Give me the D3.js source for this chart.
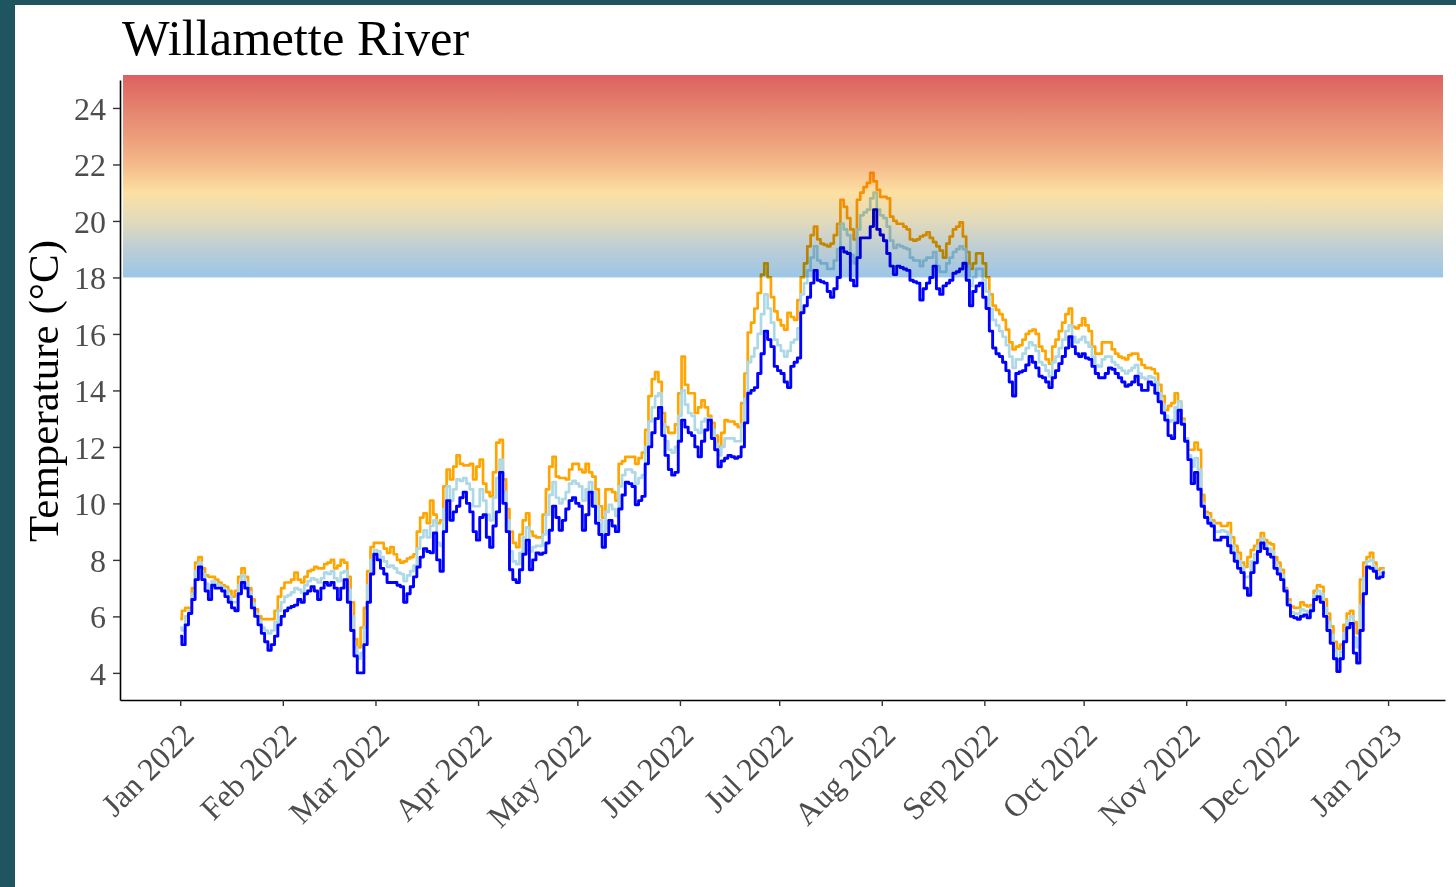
<!DOCTYPE html>
<html>
<head>
<meta charset="utf-8">
<script src="https://cdn.jsdelivr.net/npm/d3@7"></script>
<style>
  html, body { margin: 0; padding: 0; background: #1f5560; overflow: hidden; }
  svg { display: block; }
</style>
</head>
<body>
<svg id="chart"></svg>
<script>
// Daily water temperature, Willamette River, 2022 (°C)
const startDate = "2022-01-01";

const tempMax = [
  5.9,6.2,6.3,6.3,7.0,7.9,8.1,7.7,7.45,7.4,
  7.4,7.3,7.2,7.1,7.05,6.9,6.7,6.9,7.4,7.7,
  7.4,7.0,6.6,6.25,6.0,5.9,5.9,5.9,5.9,6.2,
  6.7,7.0,7.2,7.2,7.3,7.55,7.3,7.2,7.4,7.6,
  7.65,7.75,7.7,7.7,7.85,7.9,8.0,7.7,7.8,8.0,
  7.9,7.4,6.5,5.2,4.9,5.6,6.3,7.6,8.45,8.6,
  8.6,8.6,8.4,8.25,8.45,8.2,8.0,7.9,7.95,8.05,
  8.1,8.2,9.0,9.5,9.65,9.3,10.1,9.6,9.3,9.4,
  10.6,11.2,10.85,11.3,11.7,11.4,11.35,11.35,11.4,10.85,
  11.3,11.55,10.7,10.4,10.25,11.1,12.15,12.25,10.85,9.8,
  9.0,8.6,8.45,8.9,9.4,9.65,9.0,8.85,8.8,8.8,
  9.6,10.5,11.3,11.65,10.95,10.9,10.9,10.85,11.2,11.4,
  11.4,11.2,11.1,11.4,11.1,10.95,10.5,9.9,9.5,10.5,
  10.5,10.4,10.1,11.4,11.5,11.65,11.65,11.65,11.4,11.6,
  11.8,12.6,13.8,14.4,14.65,14.3,13.2,12.7,12.5,12.5,
  12.8,13.9,15.2,14.2,13.9,13.9,13.2,13.4,13.65,13.4,
  13.1,12.85,12.4,12.0,12.5,12.95,12.9,12.9,12.8,12.7,
  13.55,14.6,16.05,16.4,16.9,17.45,18.1,18.5,18.0,17.3,
  16.8,16.5,16.3,16.15,16.75,16.6,16.5,17.2,18.0,18.5,
  19.1,19.5,19.8,19.35,19.2,19.15,19.1,19.2,19.5,19.9,
  20.75,20.5,20.1,19.7,19.35,20.75,21.0,21.2,21.35,21.7,
  21.4,21.1,20.85,20.85,20.8,20.15,20.0,19.9,19.9,19.8,
  19.7,19.35,19.3,19.35,19.45,19.5,19.6,19.4,19.25,19.1,
  18.95,18.7,19.2,19.45,19.7,19.8,19.95,19.45,18.9,18.3,
  18.5,18.85,18.85,18.5,18.0,17.4,17.0,16.85,16.7,16.5,
  16.15,15.7,15.45,15.55,15.6,15.8,16.0,16.1,16.15,16.0,
  15.55,15.4,15.1,14.95,15.55,15.8,16.1,16.4,16.7,16.9,
  16.25,16.2,16.3,16.55,16.3,16.1,15.55,15.3,15.3,15.7,
  15.7,15.7,15.45,15.3,15.2,15.15,15.1,15.25,15.3,15.3,
  15.1,14.9,14.8,14.8,14.75,14.6,14.2,13.8,13.3,13.45,
  13.55,13.9,13.6,13.0,12.3,11.9,11.9,12.15,11.9,10.3,
  9.7,9.65,9.4,9.3,9.3,9.2,9.2,9.3,8.8,8.5,
  8.25,7.9,7.75,8.1,8.35,8.5,8.7,8.95,8.7,8.6,
  8.55,8.1,7.9,7.65,7.0,6.6,6.35,6.3,6.3,6.5,
  6.4,6.35,6.4,6.9,7.1,7.05,6.6,6.1,5.65,5.1,
  4.85,5.0,5.7,6.1,6.2,5.8,5.4,7.3,7.9,8.1,
  8.25,7.9,7.65,7.7,7.7
];

const tempMean = [
  5.6,5.5,6.0,6.2,6.8,7.6,7.9,7.5,7.15,7.0,
  7.25,7.15,7.1,7.0,6.9,6.7,6.5,6.5,7.1,7.45,
  7.2,6.85,6.45,6.1,5.85,5.6,5.5,5.4,5.5,5.8,
  6.2,6.5,6.7,6.75,6.85,7.0,6.95,6.85,7.1,7.25,
  7.35,7.3,7.2,7.35,7.55,7.5,7.6,7.35,7.25,7.55,
  7.6,6.95,6.0,4.9,4.5,4.7,5.6,7.1,8.0,8.35,
  8.3,8.1,7.95,7.75,7.8,7.7,7.55,7.5,7.25,7.45,
  7.6,7.8,8.4,8.8,9.05,8.8,9.2,9.4,8.6,8.5,
  9.8,10.6,10.1,10.5,10.85,10.8,10.9,10.7,10.5,9.9,
  9.9,10.5,10.1,9.6,9.4,10.2,10.9,11.55,10.4,9.4,
  8.3,7.95,7.85,8.25,8.8,9.15,8.3,8.45,8.5,8.5,
  8.9,9.6,10.3,10.75,10.2,10.0,10.15,10.4,10.7,10.8,
  10.7,10.6,10.1,10.5,10.75,10.4,9.9,9.4,9.0,9.7,
  9.95,9.8,9.55,10.6,11.0,11.2,11.2,11.1,10.7,10.9,
  11.0,12.0,12.9,13.4,13.8,13.9,12.8,12.2,11.9,11.8,
  12.0,13.1,14.0,13.5,13.2,13.1,12.6,12.5,12.9,13.0,
  13.0,12.6,12.1,11.7,12.0,12.3,12.3,12.3,12.2,12.2,
  12.8,13.7,15.0,15.2,15.5,16.0,16.7,17.4,16.9,16.4,
  15.8,15.6,15.4,15.2,15.4,15.7,15.8,16.2,17.4,17.8,
  18.25,18.7,19.1,18.6,18.5,18.5,18.3,18.3,18.6,19.0,
  19.9,19.7,19.5,18.8,18.5,19.7,20.2,20.3,20.4,20.8,
  21.0,20.4,20.2,20.1,19.8,19.3,19.05,19.15,19.1,19.05,
  19.0,18.7,18.6,18.6,18.4,18.6,18.7,18.7,18.9,18.4,
  18.2,18.2,18.5,18.7,18.9,19.0,19.1,19.0,18.4,17.7,
  18.0,18.3,18.3,17.9,17.5,16.9,16.5,16.3,16.1,15.9,
  15.6,15.2,14.8,15.1,15.1,15.3,15.5,15.7,15.6,15.4,
  15.0,14.9,14.7,14.5,15.0,15.2,15.5,15.8,16.1,16.3,
  15.9,15.7,15.8,15.9,15.7,15.55,15.2,14.9,14.85,15.1,
  15.2,15.2,15.0,14.9,14.8,14.7,14.6,14.7,14.8,14.9,
  14.6,14.45,14.4,14.5,14.45,14.3,13.9,13.5,13.1,12.9,
  12.95,13.4,13.6,12.9,12.3,11.7,11.3,11.6,11.2,10.0,
  9.6,9.45,9.3,9.0,9.0,9.05,9.0,8.9,8.5,8.2,
  7.95,7.75,7.4,7.4,7.95,8.2,8.5,8.75,8.55,8.4,
  8.3,7.9,7.7,7.45,6.95,6.5,6.15,6.1,6.1,6.25,
  6.2,6.15,6.3,6.75,6.9,6.8,6.3,5.8,5.35,4.8,
  4.45,4.75,5.4,5.85,6.0,5.25,4.9,6.4,7.35,7.95,
  8.0,7.75,7.5,7.55,7.65
];

const tempMin = [
  5.3,5.0,5.7,6.1,6.6,7.3,7.75,7.3,6.9,6.6,
  7.1,7.0,7.0,6.9,6.7,6.5,6.3,6.2,6.8,7.2,
  7.0,6.7,6.3,6.0,5.7,5.4,5.1,4.8,5.0,5.3,
  5.7,6.0,6.2,6.3,6.35,6.4,6.6,6.5,6.8,6.9,
  7.05,6.9,6.6,7.0,7.2,7.1,7.2,7.0,6.6,7.0,
  7.3,6.5,5.5,4.6,4.0,4.0,5.0,6.5,7.5,8.2,
  8.0,7.7,7.5,7.2,7.2,7.2,7.1,7.05,6.5,6.8,
  7.05,7.4,7.75,8.1,8.4,8.3,8.25,8.95,8.0,7.6,
  9.0,10.1,9.4,9.7,9.9,10.2,10.4,10.0,9.7,9.0,
  8.7,9.5,9.6,8.8,8.45,9.2,9.7,11.1,10.0,9.0,
  7.65,7.3,7.2,7.65,8.2,8.7,7.65,8.0,8.25,8.2,
  8.25,8.6,9.05,9.9,9.5,9.05,9.4,9.8,10.1,10.2,
  10.0,9.9,9.05,9.6,10.4,9.9,9.3,8.9,8.45,8.9,
  9.4,9.2,9.0,9.8,10.3,10.75,10.7,10.6,9.95,10.1,
  10.25,11.4,12.0,12.5,13.0,13.4,12.4,11.7,11.2,11.0,
  11.1,12.2,12.95,12.7,12.5,12.4,12.0,11.65,12.2,12.6,
  12.95,12.3,11.9,11.3,11.5,11.6,11.7,11.65,11.6,11.65,
  12.0,12.85,13.9,14.0,14.1,14.6,15.3,16.1,15.8,15.55,
  14.85,14.7,14.6,14.3,14.1,14.85,15.0,15.15,16.75,17.0,
  17.3,17.8,18.25,17.9,17.85,17.8,17.5,17.3,17.6,18.0,
  19.05,18.9,18.85,17.9,17.7,18.7,19.4,19.4,19.4,19.8,
  20.4,19.7,19.5,19.3,18.85,18.4,18.1,18.4,18.35,18.3,
  18.25,17.9,17.85,17.8,17.2,17.6,17.8,18.0,18.4,17.6,
  17.4,17.7,17.8,17.9,18.15,18.2,18.3,18.5,17.9,17.0,
  17.5,17.7,17.8,17.3,16.9,16.1,15.5,15.3,15.2,15.0,
  14.7,14.3,13.8,14.6,14.65,14.7,14.9,15.2,15.0,14.8,
  14.5,14.45,14.3,14.1,14.45,14.7,14.95,15.2,15.5,15.9,
  15.55,15.3,15.2,15.3,15.15,15.1,14.85,14.6,14.45,14.45,
  14.6,14.8,14.75,14.6,14.45,14.3,14.15,14.2,14.3,14.5,
  14.2,14.0,14.0,14.3,14.2,13.9,13.6,13.2,12.95,12.4,
  12.3,12.85,13.3,12.8,12.2,11.55,10.7,11.1,10.5,9.9,
  9.5,9.3,9.2,8.7,8.7,8.8,8.8,8.5,8.25,7.95,
  7.7,7.55,7.0,6.75,7.55,7.9,8.3,8.6,8.4,8.2,
  8.1,7.7,7.5,7.3,6.9,6.4,6.0,5.95,5.9,6.0,
  6.05,5.95,6.2,6.6,6.7,6.5,6.0,5.5,5.05,4.5,
  4.05,4.5,5.1,5.6,5.75,4.7,4.35,5.5,6.8,7.75,
  7.7,7.6,7.35,7.4,7.55
];

const monthTicks = [
  "2022-01-01","2022-02-01","2022-03-01","2022-04-01","2022-05-01","2022-06-01",
  "2022-07-01","2022-08-01","2022-09-01","2022-10-01","2022-11-01","2022-12-01","2023-01-01"
];
const yTicks = [4, 6, 8, 10, 12, 14, 16, 18, 20, 22, 24];

// Warm-water band: starts at this temperature and runs to the top of the panel
const bandFloor = 18;
const bandStops = [
  [18.0, "#9bc6e6"],
  [19.0, "#bccdd6"],
  [20.0, "#e2dabb"],
  [21.0, "#fde0a2"],
  [22.0, "#f5b98a"],
  [23.0, "#ec9c7a"],
  [24.0, "#e5826e"],
  [25.2, "#dd6060"]
];

const title = "Willamette River";
const yTitle = "Temperature (°C)";

// ---- layout ----
const W = 1456, H = 887;
const panel = { left: 120, right: 1445, top: 80, bottom: 700 };
const serif = "'Liberation Serif', 'Times New Roman', Times, serif";

const svg = d3.select("#chart").attr("width", W).attr("height", H);

svg.append("rect").attr("width", W).attr("height", H).attr("fill", "#1f5560");
svg.append("rect").attr("x", 15).attr("y", 5).attr("width", W - 15).attr("height", H - 5).attr("fill", "#ffffff");

const parse = d3.utcParse("%Y-%m-%d");
const t0 = parse(startDate);
const dates = tempMax.map((_, i) => d3.utcDay.offset(t0, i));

// 5% padding either side of the data range
const span = dates[dates.length - 1] - dates[0];
const x = d3.scaleUtc()
  .domain([new Date(+dates[0] - 0.05 * span), new Date(+dates[dates.length - 1] + 0.05 * span)])
  .range([panel.left, panel.right]);

const y = d3.scaleLinear().domain([3.04, 24.99]).range([panel.bottom, panel.top]);

// ---- series ----
const line = d3.line()
  .x((d, i) => x(dates[i]))
  .y(d => y(d))
  .curve(d3.curveStep);

const series = [
  { values: tempMax,  color: "#FFA500", width: 2.7 },
  { values: tempMean, color: "#ADD8E6", width: 2.7 },
  { values: tempMin,  color: "#0000FF", width: 2.9 }
];

const gLines = svg.append("g");
gLines.selectAll("path")
  .data(series)
  .join("path")
  .attr("d", d => line(d.values))
  .attr("fill", "none")
  .attr("stroke", d => d.color)
  .attr("stroke-width", d => d.width)
  .attr("stroke-linejoin", "round");

// ---- gradient band, multiplied over the lines ----
const bandTop = 75;
const bandTopTemp = y.invert(bandTop);
const defs = svg.append("defs");
const grad = defs.append("linearGradient")
  .attr("id", "warmBand")
  .attr("gradientUnits", "userSpaceOnUse")
  .attr("x1", 0).attr("x2", 0)
  .attr("y1", y(bandFloor)).attr("y2", bandTop);
grad.selectAll("stop")
  .data(bandStops)
  .join("stop")
  .attr("offset", d => Math.max(0, Math.min(1, (d[0] - bandFloor) / (bandTopTemp - bandFloor))))
  .attr("stop-color", d => d[1]);

svg.append("rect")
  .attr("x", panel.left + 3)
  .attr("width", panel.right - 2 - (panel.left + 3))
  .attr("y", bandTop)
  .attr("height", y(bandFloor) - bandTop)
  .attr("fill", "url(#warmBand)")
  .style("mix-blend-mode", "multiply");

// ---- axes ----
const yAxis = svg.append("g")
  .attr("transform", `translate(${panel.left},0)`)
  .call(d3.axisLeft(y).tickValues(yTicks).tickSize(7).tickSizeOuter(0).tickPadding(7));

const xAxis = svg.append("g")
  .attr("transform", `translate(0,${panel.bottom})`)
  .call(d3.axisBottom(x)
    .tickValues(monthTicks.map(parse))
    .tickFormat(d3.utcFormat("%b %Y"))
    .tickSize(6).tickSizeOuter(0));

[yAxis, xAxis].forEach(g => {
  g.select(".domain").attr("stroke", "#000").attr("stroke-width", 1.6);
  g.selectAll(".tick line").attr("stroke", "#333").attr("stroke-width", 1.4);
  g.selectAll(".tick text")
    .attr("fill", "#4d4d4d")
    .style("font-family", serif)
    .style("font-size", "32px");
});

yAxis.selectAll(".tick text").attr("dy", "0.36em");

xAxis.selectAll(".tick text")
  .attr("x", 0).attr("y", 0).attr("dy", null)
  .attr("text-anchor", "end")
  .attr("transform", "translate(15,37) rotate(-45)");

// ---- titles ----
svg.append("text")
  .attr("x", 122).attr("y", 55)
  .attr("fill", "#000")
  .style("font-family", serif)
  .style("font-size", "50.5px")
  .text(title);

svg.append("text")
  .attr("transform", "translate(58,391) rotate(-90)")
  .attr("text-anchor", "middle")
  .attr("fill", "#000")
  .style("font-family", serif)
  .style("font-size", "43px")
  .text(yTitle);
</script>
</body>
</html>
